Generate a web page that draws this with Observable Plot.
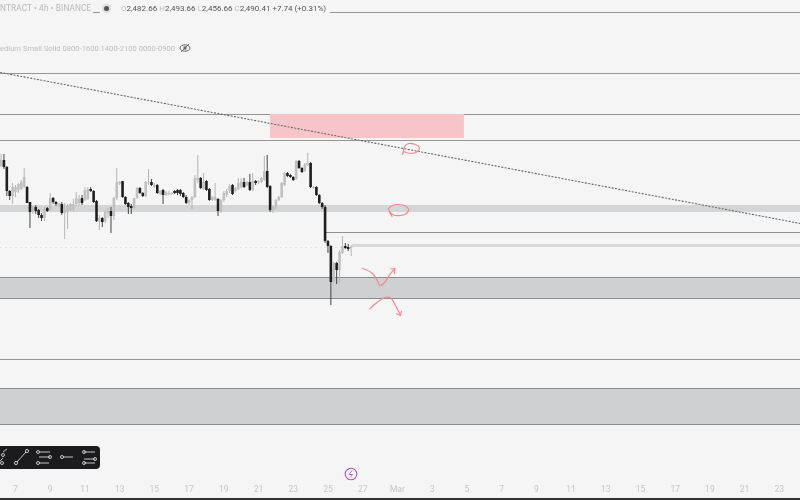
<!DOCTYPE html>
<html>
<head>
<meta charset="utf-8">
<script src="https://cdn.jsdelivr.net/npm/d3@7"></script>
<script src="https://cdn.jsdelivr.net/npm/@observablehq/plot@0.6"></script>
<style>
html,body{margin:0;padding:0;background:#f5f5f5;overflow:hidden}
#wrap{position:relative;width:800px;height:500px;overflow:hidden;font-family:Roboto,sans-serif;filter:blur(.45px)}
#chart svg{display:block}
.hdr{position:absolute;white-space:nowrap;background:#f5f5f5;line-height:11px}
#h1{left:0;top:3px;width:93px;font-size:8.3px;color:#b9b9bb;letter-spacing:.1px}
#dotbg{position:absolute;left:100px;top:3px;width:20px;height:11px;background:#f5f5f5}
#dot{position:absolute;left:103.5px;top:6px;width:5px;height:5px;border-radius:50%;background:#555;box-shadow:0 0 0 2px #ddd}
#h2{left:118px;top:3px;width:212px;padding-left:3px;box-sizing:border-box;font-size:8px;color:#555;letter-spacing:0}
#h2 i{font-style:normal;color:#c0c0c2}
#h3{left:0;top:43px;font-size:7.6px;color:#bdbdbf;background:none;letter-spacing:0}
#eye{position:absolute;left:179px;top:43px}
#tools{position:absolute;left:-12px;top:446px;width:112px;height:23px;border-radius:4px;background:#1b1b1d}
#tools svg{position:absolute;left:0;top:0}
#bolt{position:absolute;left:344px;top:467px}
#base{position:absolute;left:0;top:498px;width:800px;height:2px;background:#333}
</style>
</head>
<body>
<div id="wrap">
  <div id="chart"></div>
  <div id="h1" class="hdr">NTRACT • 4h • BINANCE</div>
  <div id="dotbg"></div>
  <div id="dot"></div>
  <div id="h2" class="hdr"><i>O</i>2,482.66 <i>H</i>2,493.66 <i>L</i>2,456.66 <i>C</i>2,490.41 +7.74 (+0.31%)</div>
  <div id="h3" class="hdr">edium Small Solid 0800-1600 1400-2100 0000-0900</div>
  <svg id="eye" width="12" height="10" viewBox="0 0 12 10"><ellipse cx="6" cy="5" rx="5" ry="3.2" fill="none" stroke="#666" stroke-width="1"/><circle cx="6" cy="5" r="1.7" fill="#666"/><path d="M2 9L10 1" stroke="#666" stroke-width=".8"/></svg>
  <div id="tools"><svg width="112" height="23" fill="none" stroke="#d8d8d8" stroke-width=".9">
    <path d="M10 17L15 12M15 6L19 3"/><circle cx="14" cy="17" r="1.5"/><circle cx="15" cy="9" r="1.5"/>
    <path d="M29 16L38 6"/><circle cx="28" cy="17" r="1.6"/><circle cx="39" cy="5" r="1.6"/>
    <path d="M51 6H62M51 11H62M51 17H61"/><circle cx="50" cy="6" r="1.5"/><circle cx="62" cy="11" r="1.5"/><circle cx="50" cy="17" r="1.5"/>
    <path d="M75 11H85"/><circle cx="74" cy="11" r="1.5"/>
    <path d="M96 6H107M96 13H107M96 17H107"/><circle cx="96" cy="6" r="1.5"/><circle cx="107" cy="13" r="1.5"/><circle cx="96" cy="17" r="1.5"/>
  </svg></div>
  <svg id="bolt" width="14" height="14" viewBox="0 0 14 14"><circle cx="7" cy="7" r="5.8" fill="none" stroke="#b84fd0" stroke-width="1.1"/><path d="M8 3.5L5 7.5H8.6L6 10.5" fill="none" stroke="#9a7aa6" stroke-width="1"/></svg>
  <div id="base"></div>
</div>
<script>
// 4h candles, first one on 6 Feb; x unit = days counted from 1 Feb (1 Mar = day 29)
const opens  = [2816,2840,2812,2716,2696,2712,2720,2724,2732,2732,2672,2632,2652,2640,2620,2608,2648,2640,2688,2672,2660,2664,2628,2632,2640,2644,2664,2668,2688,2680,2684,2724,2716,2676,2592,2608,2596,2628,2636,2616,2688,2744,2756,2692,2668,2656,2648,2688,2728,2708,2696,2748,2752,2732,2740,2704,2720,2700,2704,2704,2716,2720,2720,2708,2692,2668,2680,2692,2760,2768,2724,2756,2724,2680,2680,2684,2636,2680,2700,2716,2740,2716,2724,2732,2752,2740,2752,2720,2756,2752,2752,2760,2796,2736,2640,2652,2680,2692,2740,2788,2780,2772,2764,2836,2808,2796,2820,2828,2728,2732,2700,2668,2652,2516,2496,2352,2428,2400,2468,2496,2492,2488];
const highs  = [2864,2864,2816,2720,2748,2740,2748,2760,2808,2736,2672,2656,2660,2644,2628,2652,2652,2708,2692,2676,2668,2672,2668,2664,2668,2684,2712,2700,2700,2732,2732,2732,2720,2680,2620,2612,2640,2648,2652,2692,2808,2756,2756,2696,2672,2664,2688,2732,2732,2712,2756,2804,2764,2748,2744,2720,2724,2716,2716,2712,2720,2724,2724,2712,2700,2684,2696,2780,2860,2772,2788,2760,2728,2696,2748,2688,2684,2716,2724,2744,2744,2732,2768,2768,2768,2756,2784,2788,2760,2760,2772,2856,2860,2740,2656,2684,2696,2752,2792,2792,2784,2776,2840,2840,2812,2828,2868,2832,2736,2736,2704,2672,2660,2520,2500,2432,2432,2480,2536,2508,2504,2500];
const lows   = [2812,2804,2696,2680,2664,2692,2708,2720,2728,2668,2568,2624,2624,2608,2596,2596,2632,2636,2664,2656,2652,2620,2524,2564,2636,2636,2656,2660,2660,2676,2680,2712,2668,2592,2560,2572,2588,2608,2548,2600,2680,2740,2688,2660,2624,2624,2644,2684,2704,2692,2692,2740,2736,2728,2704,2700,2664,2696,2700,2700,2704,2700,2696,2688,2664,2660,2644,2688,2748,2724,2720,2716,2676,2676,2676,2616,2628,2672,2692,2708,2700,2712,2720,2728,2728,2736,2716,2716,2740,2744,2748,2756,2728,2632,2628,2644,2676,2688,2736,2772,2768,2756,2760,2804,2788,2792,2816,2728,2724,2696,2664,2644,2508,2468,2260,2348,2344,2348,2464,2484,2476,2456];
const closes = [2840,2812,2716,2696,2732,2732,2744,2752,2772,2668,2632,2648,2636,2620,2608,2644,2636,2688,2672,2664,2668,2628,2636,2656,2664,2664,2688,2684,2668,2720,2724,2716,2672,2596,2608,2592,2632,2636,2616,2688,2752,2752,2692,2664,2652,2648,2688,2728,2708,2696,2752,2752,2740,2740,2708,2716,2700,2712,2708,2708,2708,2708,2704,2692,2668,2680,2692,2768,2768,2728,2752,2720,2680,2692,2692,2636,2680,2708,2716,2736,2704,2728,2748,2752,2732,2752,2720,2756,2748,2756,2768,2796,2732,2640,2652,2680,2692,2748,2788,2776,2772,2760,2836,2808,2792,2824,2828,2732,2732,2700,2668,2652,2516,2496,2352,2428,2400,2472,2496,2488,2484,2492];

const tickDays   = [7,9,11,13,15,17,19,21,23,25,27,29,31,33,35,37,39,41,43,45,47,49,51];
const tickLabels = ["7","9","11","13","15","17","19","21","23","25","27","Mar","3","5","7","9","11","13","15","17","19","21","23"];

// full-width levels, and shaded zones as [upper, lower]
const levels = [3432,3188,3024,2920,2044];
const zoneEdges = [2372,2288,1928,1784];
const grayZones = [[2372,2288],[1928,1784]];
const thinBand = [2660,2632];
// levels that begin part way along the chart
const shortLevel = {from:24.86, price:2552};
const lastBand = {from:26.41, top:2504, bottom:2492};
const pinkZone = {from:21.69, to:32.86, top:3024, bottom:2928};
const priceLine = {to:26.4, price:2492};
// descending trend line
const trendDays = [6.14,52.22];
const trendPrices = [3192,2588];
// hand-drawn red strokes: day and price of each stroke
const scribbleA = {d:[29.35,29.75,30.16,30.27,30.04,29.64,29.41,29.35,29.29],p:[2876,2868,2876,2892,2904,2908,2896,2876,2864]};
const scribbleB = {d:[28.54,28.77,29.18,29.52,29.64,29.47,29.06,28.72,28.49,28.54,28.69],p:[2636,2622,2620,2628,2644,2658,2664,2660,2648,2636,2616]};
const arrowUp   = {d:[26.97,27.55,27.84,27.99,28.22,28.60,28.85],p:[2409,2389,2360,2340,2349,2387,2407]};
const arrowUpHead = {d:[28.60,28.85,28.83],p:[2407,2407,2387]};
const arrowDown = {d:[27.41,27.84,28.31,28.60,28.89,29.18],p:[2247,2273,2293,2291,2260,2220]};
const arrowDownHead = {d:[28.95,29.18,29.23],p:[2227,2220,2237]};

const candles = opens.map((o,i)=>({day:6+(i+1)/6,o,h:highs[i],l:lows[i],c:closes[i],up:closes[i]>=o}));
const toPts = s => s.d.map((d,i)=>({d,p:s.p[i]}));
const red = "#f0888d";
const stroke = (s,curve) => Plot.line(toPts(s),{x:"d",y:"p",stroke:red,strokeWidth:1.2,curve});

const chart = Plot.plot({
  width:800, height:500,
  marginTop:0, marginRight:0, marginBottom:20, marginLeft:0,
  style:{background:"#f5f5f5"},
  x:{domain:[6.136,52.22],axis:null},
  y:{domain:[1560,3480],axis:null},
  marks:[
    Plot.rect(grayZones,{x1:6.136,x2:52.22,y1:d=>d[0],y2:d=>d[1],fill:"#cfd0d2"}),
    Plot.rect([thinBand],{x1:6.136,x2:52.22,y1:d=>d[0],y2:d=>d[1],fill:"#d4d5d6"}),
    Plot.rect([lastBand],{x1:"from",x2:52.22,y1:"top",y2:"bottom",fill:"#d8d9da"}),
    Plot.ruleY(levels,{stroke:"#969696",strokeWidth:1.15}),
    Plot.ruleY(zoneEdges,{stroke:"#8c8c8c",strokeWidth:1.15}),
    Plot.ruleY([shortLevel],{y:"price",x1:"from",x2:52.22,stroke:"#8e8e8e",strokeWidth:1.2}),
    Plot.ruleY([priceLine],{y:"price",x1:6.136,x2:"to",stroke:"#e4e4e4",strokeWidth:1,strokeDasharray:"2 3"}),
    Plot.rect([pinkZone],{x1:"from",x2:"to",y1:"top",y2:"bottom",fill:"#f7c5c9"}),
    Plot.ruleX(candles,{x:"day",y1:"l",y2:"h",stroke:d=>d.up?"#b4b4b4":"#444",strokeWidth:1}),
    Plot.ruleX(candles,{x:"day",y1:"o",y2:"c",stroke:d=>d.up?"#c0c0c0":"#1e1e1e",strokeWidth:2.6}),
    Plot.line(trendDays.map((d,i)=>({d,p:trendPrices[i]})),{x:"d",y:"p",stroke:"#666",strokeWidth:1.1,strokeDasharray:"1.2 2.2"}),
    stroke(scribbleA,"catmull-rom"),
    stroke(scribbleB,"catmull-rom"),
    stroke(arrowUp,"catmull-rom"),
    stroke(arrowUpHead,"linear"),
    stroke(arrowDown,"catmull-rom"),
    stroke(arrowDownHead,"linear"),
    Plot.axisX({ticks:tickDays,tickSize:0,tickPadding:5,tickFormat:d=>tickLabels[tickDays.indexOf(d)],fontSize:8.5,fill:"#c6c6c6",label:null,fontFamily:"Roboto,sans-serif"})
  ]
});
document.getElementById("chart").appendChild(chart);
</script>
</body>
</html>
